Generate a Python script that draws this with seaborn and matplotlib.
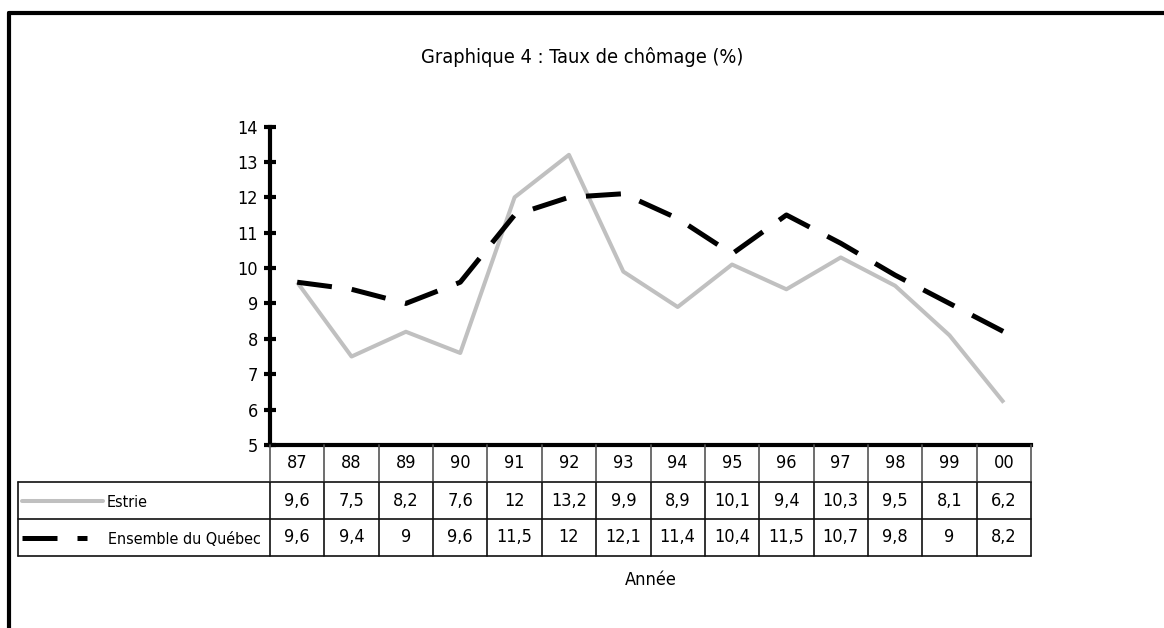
import matplotlib
matplotlib.use("Agg")
import matplotlib.pyplot as plt
from matplotlib.lines import Line2D
import seaborn as sns
import pandas as pd

years = ["87", "88", "89", "90", "91", "92", "93", "94", "95", "96", "97", "98", "99", "00"]
estrie = [9.6, 7.5, 8.2, 7.6, 12, 13.2, 9.9, 8.9, 10.1, 9.4, 10.3, 9.5, 8.1, 6.2]
quebec = [9.6, 9.4, 9, 9.6, 11.5, 12, 12.1, 11.4, 10.4, 11.5, 10.7, 9.8, 9, 8.2]
series_names = ["Estrie", "Ensemble du Québec"]
y_ticks = [5, 6, 7, 8, 9, 10, 11, 12, 13, 14]

sns.set_theme(style="white")
plt.rcParams["font.family"] = ["DejaVu Sans"]
plt.rcParams["font.stretch"] = "condensed"
plt.rcParams["text.color"] = "black"
plt.rcParams["ytick.labelcolor"] = "black"

df = pd.DataFrame({
    "idx": list(range(len(years))) * 2,
    "taux": estrie + quebec,
    "serie": [series_names[0]] * len(years) + [series_names[1]] * len(years),
})

W, H = 1164, 628
fig = plt.figure(figsize=(W / 100, H / 100), dpi=100)
fig.patch.set_facecolor("white")

GRAY = "#c0c0c0"
DASH = (7, 4)

# plot area
ax = fig.add_axes([270 / W, 1 - 445 / H, 761 / W, 318.5 / H])
palette = {series_names[0]: GRAY, series_names[1]: "black"}
dashes = {series_names[0]: "", series_names[1]: DASH}
sns.lineplot(data=df, x="idx", y="taux", hue="serie", style="serie",
             palette=palette, dashes=dashes, ax=ax, legend=False,
             linewidth=3.6, estimator=None)
for line in ax.get_lines():
    line.set_solid_capstyle("butt")
    line.set_dash_capstyle("butt")
    if line.get_color() == GRAY:
        line.set_linewidth(2.9)
ax.set_xlim(-0.5, len(years) - 0.5)
ax.set_ylim(5, 14)
ax.set_yticks(y_ticks)
ax.set_xticks([])
ax.set_xlabel("")
ax.set_ylabel("")
for side in ["top", "right"]:
    ax.spines[side].set_visible(False)
for side in ["left", "bottom"]:
    ax.spines[side].set_linewidth(3)
    ax.spines[side].set_color("black")
ax.tick_params(axis="y", direction="inout", length=9, width=3, color="black",
               labelsize=13, pad=4, left=True)
ax.patch.set_alpha(0)

# data table below
cell = 761 / len(years)
left_units = (270 - 18) / cell
tab = fig.add_axes([18 / W, 1 - 556 / H, (1031 - 18) / W, 111 / H])
x0 = -0.5 - left_units
xr = len(years) - 0.5
tab.set_xlim(x0, xr)
tab.set_ylim(3, 0)
tab.axis("off")
lc = "#111111"
lw = 1.2
for yy in [1, 2, 3]:
    tab.plot([x0, xr], [yy, yy], color=lc, lw=lw, clip_on=False)
for k in range(len(years) + 1):
    tab.plot([k - 0.5, k - 0.5], [0, 1], color="#555555", lw=lw, clip_on=False)
    tab.plot([k - 0.5, k - 0.5], [1, 3], color=lc, lw=lw, clip_on=False)
tab.plot([x0, x0], [1, 3], color=lc, lw=lw, clip_on=False)

for i, yr in enumerate(years):
    tab.text(i, 0.5, yr, ha="center", va="center", fontsize=13)
    tab.text(i, 1.5, f"{estrie[i]:g}".replace(".", ","), ha="center", va="center", fontsize=13)
    tab.text(i, 2.5, f"{quebec[i]:g}".replace(".", ","), ha="center", va="center", fontsize=13)

# legend keys in the table
k0 = x0 + 4 / cell
tab.plot([k0, x0 + 85 / cell], [1.5, 1.5], color=GRAY, lw=2.9,
         solid_capstyle="round")
tab.text(x0 + 89 / cell, 1.55, series_names[0], ha="left", va="center", fontsize=11.5)
tab.add_line(Line2D([k0, x0 + 69 / cell], [2.5, 2.5], color="black", lw=3.6,
                    dashes=DASH, dash_capstyle="butt"))
tab.text(x0 + 90 / cell, 2.55, series_names[1], ha="left", va="center", fontsize=11.5)

tab.text((-0.5 + xr) / 2, 3.65, "Année", ha="center", va="center", fontsize=13)

fig.text(582 / W, 1 - 57 / H, "Graphique 4 : Taux de chômage (%)",
         ha="center", va="center", fontsize=14.3)

# outer frame (left and top edges visible)
fig.add_artist(Line2D([9 / W, 9 / W], [0, 1 - 13 / H], transform=fig.transFigure,
                      color="black", lw=3))
fig.add_artist(Line2D([9 / W, 1], [1 - 13 / H, 1 - 13 / H], transform=fig.transFigure,
                      color="black", lw=3))

fig.savefig("out.png", dpi=100)
